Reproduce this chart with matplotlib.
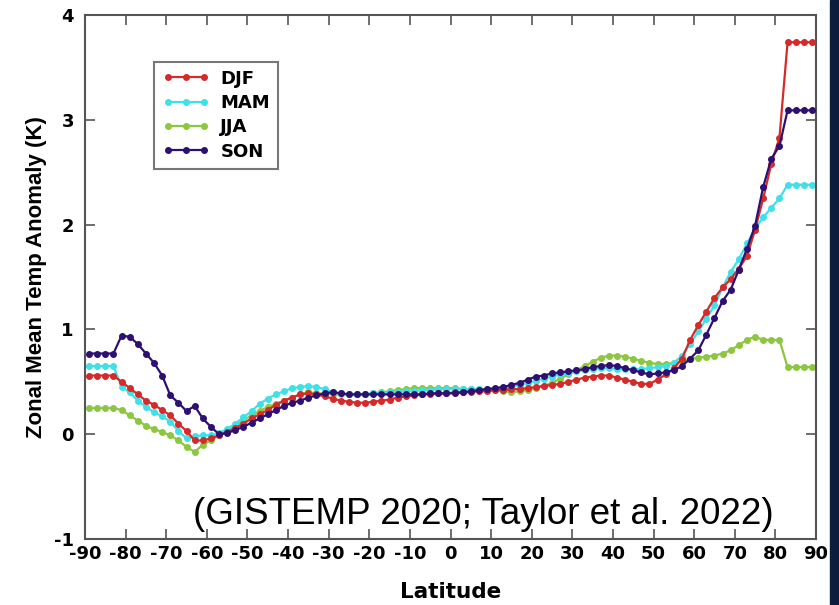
import numpy as np
import matplotlib.pyplot as plt
from matplotlib.patches import Rectangle

plt.rcParams['axes.unicode_minus'] = False

# latitude bands, 2 degree spacing
lat = np.arange(-89, 90, 2)

djf = [0.56, 0.56, 0.56, 0.56, 0.50, 0.44, 0.38, 0.32, 0.28, 0.23,
       0.18, 0.10, 0.03, -0.06, -0.06, -0.04, -0.01, 0.02, 0.06, 0.10,
       0.15, 0.19, 0.23, 0.28, 0.32, 0.35, 0.38, 0.39, 0.38, 0.36,
       0.34, 0.32, 0.31, 0.30, 0.30, 0.31, 0.32, 0.33, 0.35, 0.36,
       0.37, 0.38, 0.38, 0.39, 0.39, 0.40, 0.40, 0.40, 0.41, 0.41,
       0.42, 0.42, 0.43, 0.43, 0.44, 0.45, 0.46, 0.47, 0.48, 0.50,
       0.52, 0.54, 0.55, 0.56, 0.56, 0.54, 0.52, 0.50, 0.48, 0.48,
       0.52, 0.57, 0.63, 0.72, 0.90, 1.04, 1.17, 1.30, 1.40, 1.48,
       1.58, 1.70, 1.95, 2.25, 2.58, 2.83, 3.74, 3.74, 3.74, 3.74]

mam = [0.65, 0.65, 0.65, 0.65, 0.45, 0.40, 0.32, 0.26, 0.21, 0.17,
       0.12, 0.03, -0.04, -0.02, -0.01, -0.01, 0.01, 0.05, 0.10, 0.16,
       0.22, 0.29, 0.34, 0.38, 0.41, 0.44, 0.45, 0.46, 0.45, 0.43,
       0.40, 0.39, 0.38, 0.38, 0.38, 0.39, 0.39, 0.40, 0.40, 0.41,
       0.41, 0.42, 0.42, 0.43, 0.43, 0.43, 0.43, 0.43, 0.43, 0.43,
       0.43, 0.44, 0.45, 0.47, 0.49, 0.51, 0.53, 0.55, 0.57, 0.58,
       0.60, 0.61, 0.62, 0.63, 0.63, 0.62, 0.62, 0.62, 0.62, 0.63,
       0.64, 0.65, 0.68, 0.75, 0.86, 0.98, 1.10, 1.23, 1.40, 1.55,
       1.67, 1.82, 1.96, 2.07, 2.16, 2.25, 2.38, 2.38, 2.38, 2.38]

jja = [0.25, 0.25, 0.25, 0.25, 0.23, 0.18, 0.13, 0.08, 0.05, 0.02,
       -0.01, -0.06, -0.12, -0.17, -0.10, -0.06, -0.01, 0.03, 0.08, 0.13,
       0.18, 0.22, 0.26, 0.29, 0.32, 0.35, 0.38, 0.40, 0.39, 0.39,
       0.38, 0.38, 0.38, 0.38, 0.38, 0.39, 0.40, 0.41, 0.42, 0.43,
       0.44, 0.44, 0.44, 0.44, 0.44, 0.44, 0.43, 0.43, 0.43, 0.42,
       0.42, 0.41, 0.40, 0.41, 0.42, 0.44, 0.46, 0.49, 0.53, 0.57,
       0.61, 0.65, 0.69, 0.73, 0.75, 0.75, 0.74, 0.72, 0.70, 0.68,
       0.67, 0.67, 0.68, 0.70, 0.72, 0.73, 0.74, 0.75, 0.77, 0.80,
       0.85, 0.90, 0.93, 0.90, 0.90, 0.90, 0.64, 0.64, 0.64, 0.64]

son = [0.77, 0.77, 0.77, 0.77, 0.94, 0.93, 0.86, 0.77, 0.68, 0.56,
       0.37, 0.30, 0.22, 0.27, 0.15, 0.07, 0.00, 0.01, 0.04, 0.07,
       0.11, 0.15, 0.19, 0.23, 0.27, 0.30, 0.32, 0.35, 0.37, 0.39,
       0.40, 0.39, 0.38, 0.38, 0.38, 0.38, 0.38, 0.38, 0.38, 0.38,
       0.38, 0.38, 0.39, 0.39, 0.39, 0.39, 0.40, 0.41, 0.42, 0.43,
       0.44, 0.45, 0.47, 0.49, 0.52, 0.55, 0.56, 0.58, 0.59, 0.60,
       0.61, 0.62, 0.64, 0.65, 0.66, 0.65, 0.63, 0.61, 0.59, 0.57,
       0.58, 0.59, 0.61, 0.65, 0.72, 0.80, 0.95, 1.11, 1.27, 1.38,
       1.57, 1.77, 1.99, 2.36, 2.63, 2.75, 3.09, 3.09, 3.09, 3.09]

seasons = ['DJF', 'MAM', 'JJA', 'SON']
series = [djf, mam, jja, son]
colors = ['#d42a2a', '#40e0e8', '#8dc63f', '#2e0f72']
order = [3, 2, 1, 4]  # SON drawn on top

xticks = np.arange(-90, 91, 10)
yticks = [-1, 0, 1, 2, 3, 4]

bold = {'family': 'DejaVu Sans', 'weight': 'bold'}
grey = '#555555'

fig = plt.figure(figsize=(8.39, 6.05), dpi=100)
ax = fig.add_axes([85 / 839, 1 - 539 / 605, 731 / 839, 524 / 605])

for name, vals, c, z in zip(seasons, series, colors, order):
    ax.plot(lat, vals, color=c, lw=1.6, marker='o', ms=4, mec=c, mfc=c,
            label=name, zorder=z)

ax.set_xlim(-90, 90)
ax.set_ylim(-1, 4)
ax.set_xticks(xticks)
ax.set_yticks(yticks)
ax.tick_params(direction='in', length=7, width=1.2, color=grey,
               top=True, right=True, labelsize=13)
ax.tick_params(axis='x', pad=4)
ax.tick_params(axis='y', pad=8)
for lbl in ax.get_xticklabels() + ax.get_yticklabels():
    lbl.set_fontproperties(bold)
    lbl.set_fontsize(13)
for sp in ax.spines.values():
    sp.set_color(grey)
    sp.set_linewidth(1.5)

ax.set_xlabel('Latitude', fontdict=bold, fontsize=15.5, labelpad=14)
ax.set_ylabel('Zonal Mean Temp Anomaly (K)', family='Liberation Sans',
              weight='bold', fontsize=16, labelpad=5)

leg = ax.legend(loc='upper left', bbox_to_anchor=(0.095, 0.911), numpoints=3,
                handlelength=2.6, handletextpad=0.6, labelspacing=0.35,
                borderpad=0.45, borderaxespad=0, fancybox=False,
                prop={**bold, 'size': 13})
leg.get_frame().set_edgecolor(grey)
leg.get_frame().set_linewidth(1.5)

ax.text(0.5 + 0.5 * (188 + 777 - 2 * 450) / 731, (539 - 515) / 524,
        '(GISTEMP 2020; Taylor et al. 2022)', transform=ax.transAxes,
        family='Liberation Sans', fontsize=26.5, ha='center', va='center')

# dark slide background strip on the right edge
fig.patches.append(Rectangle((830 / 839, 0), 9 / 839, 1, transform=fig.transFigure,
                             color='#0b1c3c', zorder=-1))

fig.savefig('out.png', dpi=100)
